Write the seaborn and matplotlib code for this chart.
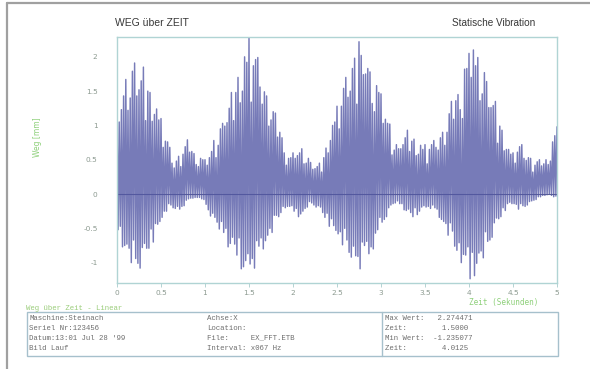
import numpy as np
import matplotlib
matplotlib.use("Agg")
import matplotlib.pyplot as plt
import seaborn as sns

# Positive excursions of the displacement signal, one per oscillation
# (t = 0.000, 0.025, ... 5.000 s)
peaks = [
    1.12, 1.05, 1.23, 1.43, 1.67, 1.22, 1.40, 1.79, 1.91, 1.43,
    1.52, 1.65, 1.85, 1.07, 1.50, 1.48, 1.06, 1.16, 1.24, 1.08,
    1.10, 0.68, 0.77, 0.76, 0.68, 0.45, 0.38, 0.48, 0.55, 0.40,
    0.58, 0.69, 0.79, 0.61, 0.62, 0.59, 0.43, 0.40, 0.52, 0.50,
    0.50, 0.42, 0.53, 0.62, 0.78, 0.53, 0.71, 0.95, 1.03, 0.99,
    1.04, 1.25, 1.48, 1.07, 1.48, 1.70, 1.33, 1.50, 2.00, 1.92,
    2.27447, 1.34, 1.87, 1.96, 1.99, 1.56, 1.31, 1.49, 1.43, 0.99,
    1.08, 1.20, 1.18, 0.83, 0.90, 0.82, 0.60, 0.42, 0.52, 0.53,
    0.60, 0.52, 0.56, 0.60, 0.66, 0.44, 0.45, 0.52, 0.46, 0.36,
    0.37, 0.40, 0.45, 0.32, 0.53, 0.67, 0.60, 0.78, 1.00, 1.05,
    1.28, 0.95, 1.28, 1.54, 1.70, 1.41, 1.50, 1.83, 1.98, 1.31,
    2.22, 2.02, 1.74, 1.75, 1.83, 1.78, 1.32, 1.20, 1.58, 1.48,
    1.46, 1.03, 1.09, 1.03, 1.02, 0.57, 0.64, 0.72, 0.66, 0.66,
    0.72, 0.82, 0.93, 0.62, 0.77, 0.80, 0.56, 0.58, 0.71, 0.65,
    0.72, 0.44, 0.65, 0.72, 0.78, 0.68, 0.64, 0.82, 0.90, 0.71,
    0.90, 1.17, 1.35, 1.09, 1.36, 1.45, 1.23, 1.10, 1.82, 1.83,
    2.05, 1.70, 2.10, 1.87, 1.99, 1.36, 1.46, 1.77, 1.64, 1.26,
    1.26, 1.29, 1.35, 0.74, 0.99, 0.93, 0.63, 0.65, 0.65, 0.58,
    0.60, 0.45, 0.61, 0.69, 0.72, 0.52, 0.49, 0.53, 0.52, 0.32,
    0.42, 0.47, 0.50, 0.41, 0.44, 0.50, 0.43, 0.48, 0.76, 0.85,
    0.98,
]

# Negative excursions, half an oscillation after each peak
# (t = 0.0125, 0.0375, ... 4.9875 s)
troughs = [
    -0.52, -0.47, -0.77, -0.75, -0.73, -0.79, -1.00, -0.67, -0.94, -1.01,
    -1.08, -0.78, -0.72, -0.79, -0.79, -0.51, -0.70, -0.43, -0.44, -0.40,
    -0.34, -0.25, -0.25, -0.14, -0.16, -0.20, -0.21, -0.18, -0.22, -0.18,
    -0.17, -0.09, -0.07, -0.06, -0.06, -0.05, -0.05, -0.05, -0.07, -0.08,
    -0.15, -0.23, -0.32, -0.28, -0.34, -0.41, -0.51, -0.40, -0.56, -0.50,
    -0.77, -0.72, -0.63, -0.73, -0.89, -0.64, -1.09, -1.06, -0.97, -0.87,
    -1.02, -0.94, -1.08, -0.68, -0.76, -0.64, -0.80, -0.68, -0.60, -0.50,
    -0.56, -0.31, -0.31, -0.33, -0.27, -0.18, -0.20, -0.18, -0.18, -0.17,
    -0.25, -0.21, -0.33, -0.29, -0.25, -0.21, -0.19, -0.11, -0.13, -0.16,
    -0.19, -0.17, -0.19, -0.27, -0.34, -0.28, -0.47, -0.36, -0.46, -0.53,
    -0.58, -0.55, -0.74, -0.50, -0.67, -0.85, -0.92, -0.76, -0.90, -0.91,
    -1.09, -0.70, -0.75, -0.69, -0.87, -0.77, -0.80, -0.57, -0.52, -0.34,
    -0.41, -0.37, -0.33, -0.20, -0.16, -0.14, -0.13, -0.10, -0.14, -0.14,
    -0.23, -0.24, -0.22, -0.27, -0.33, -0.20, -0.30, -0.25, -0.19, -0.17,
    -0.19, -0.18, -0.21, -0.16, -0.20, -0.22, -0.34, -0.37, -0.40, -0.43,
    -0.60, -0.42, -0.54, -0.76, -0.82, -0.71, -1.00, -0.88, -0.89, -0.77,
    -1.235077, -0.85, -1.19, -1.01, -0.86, -0.83, -0.93, -0.55, -0.69, -0.67,
    -0.63, -0.42, -0.35, -0.36, -0.33, -0.20, -0.24, -0.14, -0.12, -0.14,
    -0.14, -0.15, -0.22, -0.14, -0.17, -0.18, -0.16, -0.11, -0.10, -0.09,
    -0.08, -0.04, -0.04, -0.02, -0.02, -0.01, 0.00, -0.02, -0.04, -0.03,
]

SAMPLE_STEP = 0.0125  # seconds between successive extrema

x_ticks = [0, 0.5, 1, 1.5, 2, 2.5, 3, 3.5, 4, 4.5, 5]
x_tick_labels = ["0", "0.5", "1", "1.5", "2", "2.5", "3", "3.5", "4", "4.5", "5"]
y_ticks = [-1, -0.5, 0, 0.5, 1, 1.5, 2]
y_tick_labels = ["-1", "-0.5", "0", "0.5", "1", "1.5", "2"]

info_col1 = ["Maschine:Steinach", "Seriel Nr:123456", "Datum:13:01 Jul 28 '99", "Bild Lauf"]
info_col2 = ["Achse:X", "Location:", "File:     EX_FFT.ETB", "Interval: x067 Hz"]
info_col3 = ["Max Wert:   2.274471", "Zeit:        1.5000",
             "Min Wert:  -1.235077", "Zeit:        4.0125"]

# interleave peaks and troughs into one time series
signal = []
for p, q in zip(peaks, troughs):
    signal.extend([p, q])
signal.append(peaks[-1])
time = np.arange(len(signal)) * SAMPLE_STEP

sns.set_style("white")
plt.rcParams["font.family"] = ["Liberation Sans", "DejaVu Sans"]

W, H = 590, 369
fig = plt.figure(figsize=(W / 100, H / 100), dpi=100)
fig.patch.set_facecolor("white")

# outer frame of the report page
fig.add_artist(plt.Line2D([7 / W, 7 / W], [0, 1 - 3 / H], color="#a0a0a0", lw=1.6))
fig.add_artist(plt.Line2D([7 / W, 1], [1 - 3 / H, 1 - 3 / H], color="#a0a0a0", lw=1.6))

ax = fig.add_axes([117 / W, 1 - 283 / H, 440 / W, 246 / H])
ax.axhline(0, color="#5d6390", lw=0.8, zorder=1)
sns.lineplot(x=time, y=signal, ax=ax, sort=False, estimator=None,
             color="#5156a4", lw=1.05, alpha=0.78, zorder=2)

ax.set_xlim(0, 5)
ax.set_ylim(-1.297, 2.289)
ax.set_xticks(x_ticks)
ax.set_xticklabels(x_tick_labels)
ax.set_yticks(y_ticks)
ax.set_yticklabels(y_tick_labels)
ax.tick_params(axis="x", length=3, width=0.6, color="#a8cccc", pad=2,
               labelsize=5.3, labelcolor="#8c9a90", direction="out", bottom=True)
ax.tick_params(axis="y", length=0, pad=14, labelsize=5.3, labelcolor="#8c9a90")
for lab in ax.get_xticklabels() + ax.get_yticklabels():
    lab.set_family(["DejaVu Sans"])
for side, spine in ax.spines.items():
    spine.set_visible(True)
    spine.set_color("#b0d4d4")
    spine.set_linewidth(1.0)
ax.set_xlabel("")
ax.set_ylabel("")

# titles
fig.text(115 / W, 1 - 23 / H, "WEG über ZEIT", fontsize=7.5, color="#383838",
         ha="left", va="center")
fig.text(452 / W, 1 - 23 / H, "Statische Vibration", fontsize=7.2, color="#383838",
         ha="left", va="center")

# axis captions
fig.text(37 / W, 1 - 137 / H, "Weg [mm]", rotation=90, fontsize=5.5,
         color="#8ed07a", ha="center", va="center", family=["DejaVu Sans"])
fig.text(504 / W, 1 - 302 / H, "Zeit (Sekunden)", fontsize=5.5,
         color="#8ed07a", ha="center", va="center", family=["DejaVu Sans Mono"])

# info block below the chart
fig.text(26 / W, 1 - 308 / H, "Weg über Zeit - Linear", fontsize=5.3,
         color="#9acd7a", ha="left", va="center", family=["Liberation Mono", "DejaVu Sans Mono"])
box = plt.Rectangle((27 / W, 1 - 356 / H), (558 - 27) / W, (356 - 312) / H,
                    transform=fig.transFigure, fill=False, ec="#a6c0cc", lw=1.0)
fig.add_artist(box)
fig.add_artist(plt.Line2D([382 / W, 382 / W], [1 - 356 / H, 1 - 312 / H],
                          color="#a6c0cc", lw=1.0))
row_y = [318, 328, 338, 348]
for col_x, col in [(29, info_col1), (207, info_col2), (385, info_col3)]:
    for yy, txt in zip(row_y, col):
        fig.text(col_x / W, 1 - yy / H, txt, fontsize=5.3, color="#6e6e6e",
                 ha="left", va="center", family=["Liberation Mono", "DejaVu Sans Mono"])

fig.savefig("out.png", dpi=100)
